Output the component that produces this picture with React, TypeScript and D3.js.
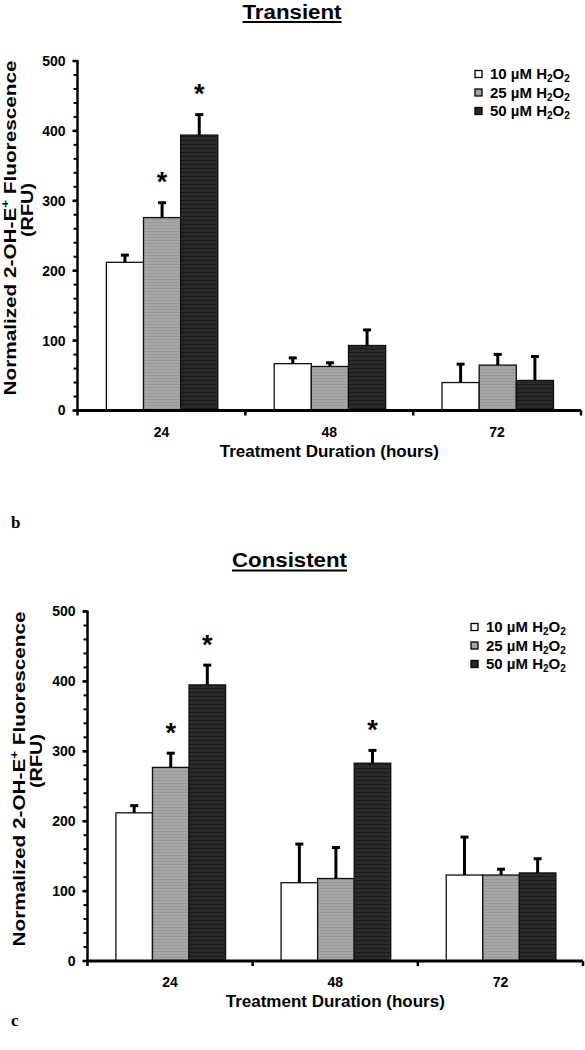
import React from 'react';
import * as d3 from 'd3';

// ---------- data ----------
const categories = ['24', '48', '72'];
const seriesKeys = ['10', '25', '50'];
const yTicks = [0, 100, 200, 300, 400, 500];
const yMinorTicks = d3.range(0, 501, 20);

// Transient
const transient10 = [212, 67, 40];
const transient25 = [276, 63, 65];
const transient50 = [394, 93, 43];
const transientErr10 = [11, 9, 27];
const transientErr25 = [22, 6, 16];
const transientErr50 = [30, 23, 35];
const transientSig10 = [false, false, false];
const transientSig25 = [true, false, false];
const transientSig50 = [true, false, false];

// Consistent
const consistent10 = [212, 112, 123];
const consistent25 = [277, 118, 123];
const consistent50 = [395, 283, 126];
const consistentErr10 = [11, 56, 55];
const consistentErr25 = [21, 45, 9];
const consistentErr50 = [29, 19, 21];
const consistentSig10 = [false, false, false];
const consistentSig25 = [true, false, false];
const consistentSig50 = [true, true, false];

const FILLS = ['#ffffff', 'url(#patGray)', 'url(#patBlack)'];
const LEGEND_FILLS = ['#ffffff', '#a3a3a3', '#262626'];
const FONT = '"Liberation Sans", Arial, sans-serif';

type ChartProps = {
  title: string;
  titleX: number;
  titleY: number;
  titleLen: number;
  x0: number;
  x1: number;
  yTop: number;
  yBottom: number;
  means: number[][];
  errs: number[][];
  sigs: boolean[][];
  legendX: number;
  legendY: number;
  labelX: number;
  labelCenterY: number;
  rfuCenterY: number;
};

function Chart(p: ChartProps) {
  const y = d3.scaleLinear().domain([0, 500]).range([p.yBottom, p.yTop]);
  const xBand = d3.scaleBand<string>().domain(categories).range([p.x0, p.x1]).padding(0);
  const bw = xBand.bandwidth();
  const inner = d3
    .scaleBand<string>()
    .domain(seriesKeys)
    .range([bw * 0.172, bw * 0.836])
    .padding(0);
  const barW = inner.bandwidth();
  const boundaries = [...categories.map((c) => xBand(c) as number), p.x1];

  return (
    <g>
      <text
        x={p.titleX}
        y={p.titleY}
        textAnchor="middle"
        fontFamily={FONT}
        fontWeight="bold"
        fontSize={20}
        textLength={p.titleLen}
        lengthAdjust="spacingAndGlyphs"
      >
        {p.title}
      </text>
      <line
        x1={p.titleX - p.titleLen / 2}
        x2={p.titleX + p.titleLen / 2}
        y1={p.titleY + 3.5}
        y2={p.titleY + 3.5}
        stroke="#000"
        strokeWidth={2}
      />

      {/* bars */}
      {seriesKeys.map((s, si) =>
        categories.map((c, ci) => {
          const v = p.means[si][ci];
          const bx = (xBand(c) as number) + (inner(s) as number);
          return (
            <rect
              key={`b${s}${c}`}
              x={bx}
              y={y(v)}
              width={barW}
              height={y(0) - y(v)}
              fill={FILLS[si]}
              stroke="#111"
              strokeWidth={1.3}
            />
          );
        })
      )}

      {/* error bars + asterisks */}
      {seriesKeys.map((s, si) =>
        categories.map((c, ci) => {
          const v = p.means[si][ci];
          const e = p.errs[si][ci];
          const cx = (xBand(c) as number) + (inner(s) as number) + barW / 2;
          const yt = y(v + e);
          return (
            <g key={`e${s}${c}`}>
              <line x1={cx} x2={cx} y1={y(v)} y2={yt} stroke="#000" strokeWidth={3} />
              <line x1={cx - 4} x2={cx + 4} y1={yt + 0.5} y2={yt + 0.5} stroke="#000" strokeWidth={3} />
              {p.sigs[si][ci] && (
                <text
                  x={cx}
                  y={yt - 11}
                  textAnchor="middle"
                  fontFamily={FONT}
                  fontWeight="bold"
                  fontSize={27}
                >
                  *
                </text>
              )}
            </g>
          );
        })
      )}

      {/* y axis */}
      <line x1={p.x0} x2={p.x0} y1={p.yTop - 1} y2={p.yBottom} stroke="#000" strokeWidth={2.5} />
      {yMinorTicks.map((t) => (
        <line key={`m${t}`} x1={p.x0 - 4} x2={p.x0} y1={y(t)} y2={y(t)} stroke="#000" strokeWidth={2} />
      ))}
      {yTicks.map((t) => (
        <g key={`t${t}`}>
          <line x1={p.x0 - 5} x2={p.x0} y1={y(t)} y2={y(t)} stroke="#000" strokeWidth={2.5} />
          <text
            x={p.x0 - 12}
            y={y(t)}
            dy="0.35em"
            textAnchor="end"
            fontFamily={FONT}
            fontWeight="bold"
            fontSize={14}
          >
            {t}
          </text>
        </g>
      ))}

      {/* x axis */}
      <line x1={p.x0 - 1} x2={p.x1} y1={p.yBottom} y2={p.yBottom} stroke="#000" strokeWidth={2.8} />
      {boundaries.map((bx, i) => (
        <line key={`xt${i}`} x1={bx} x2={bx} y1={p.yBottom} y2={p.yBottom + 5} stroke="#000" strokeWidth={2.5} />
      ))}
      {categories.map((c) => (
        <text
          key={`xl${c}`}
          x={(xBand(c) as number) + bw / 2}
          y={p.yBottom + 26}
          textAnchor="middle"
          fontFamily={FONT}
          fontWeight="bold"
          fontSize={14}
        >
          {c}
        </text>
      ))}
      <text
        x={(p.x0 + p.x1) / 2}
        y={p.yBottom + 46}
        textAnchor="middle"
        fontFamily={FONT}
        fontWeight="bold"
        fontSize={17}
      >
        Treatment Duration (hours)
      </text>

      {/* y label */}
      <text
        transform={`translate(${p.labelX},${p.labelCenterY}) rotate(-90)`}
        textAnchor="middle"
        fontFamily={FONT}
        fontWeight="bold"
        fontSize={17}
        textLength={335}
        lengthAdjust="spacingAndGlyphs"
      >
        Normalized 2-OH-E
        <tspan fontSize={11} dy={-7}>+</tspan>
        <tspan dy={7}> Fluorescence</tspan>
      </text>
      <text
        transform={`translate(${p.labelX + 17},${p.rfuCenterY}) rotate(-90)`}
        textAnchor="middle"
        fontFamily={FONT}
        fontWeight="bold"
        fontSize={17}
        textLength={54}
        lengthAdjust="spacingAndGlyphs"
      >
        (RFU)
      </text>

      {/* legend */}
      {seriesKeys.map((s, si) => {
        const ly = p.legendY + si * 18.5;
        return (
          <g key={`lg${s}`}>
            <rect x={p.legendX} y={ly - 3.5} width={7} height={7} fill={LEGEND_FILLS[si]} stroke="#000" strokeWidth={1.3} />
            <text x={p.legendX + 15} y={ly + 5} fontFamily={FONT} fontWeight="bold" fontSize={15}>
              {s} µM H
              <tspan fontSize={10} dy={3}>2</tspan>
              <tspan dy={-3}>O</tspan>
              <tspan fontSize={10} dy={3}>2</tspan>
            </text>
          </g>
        );
      })}
    </g>
  );
}

export default function App() {
  return (
    <svg
      width={585}
      height={1050}
      style={{ position: 'absolute', left: 0, top: 0, background: '#fff' }}
    >
      <defs>
        <pattern id="patGray" width={6} height={3} patternUnits="userSpaceOnUse">
          <rect width={6} height={3} fill="#a6a6a6" />
          <rect width={6} height={1} fill="#999999" />
        </pattern>
        <pattern id="patBlack" width={6} height={4} patternUnits="userSpaceOnUse">
          <rect width={6} height={4} fill="#2a2a2a" />
          <rect width={6} height={1} fill="#1a1a1a" />
        </pattern>
      </defs>
      <rect width={585} height={1050} fill="#fff" />

      <Chart
        title="Transient"
        titleX={292}
        titleY={18.5}
        titleLen={99}
        x0={77.5}
        x1={581}
        yTop={61}
        yBottom={410.5}
        means={[transient10, transient25, transient50]}
        errs={[transientErr10, transientErr25, transientErr50]}
        sigs={[transientSig10, transientSig25, transientSig50]}
        legendX={475}
        legendY={74}
        labelX={16}
        labelCenterY={228}
        rfuCenterY={210}
      />

      <text x={11} y={528} fontFamily='"Liberation Serif", "Times New Roman", serif' fontWeight="bold" fontSize={17}>
        b
      </text>

      <Chart
        title="Consistent"
        titleX={289.5}
        titleY={567}
        titleLen={115}
        x0={87.5}
        x1={583}
        yTop={611.5}
        yBottom={961}
        means={[consistent10, consistent25, consistent50]}
        errs={[consistentErr10, consistentErr25, consistentErr50]}
        sigs={[consistentSig10, consistentSig25, consistentSig50]}
        legendX={471}
        legendY={627}
        labelX={25}
        labelCenterY={779}
        rfuCenterY={761}
      />

      <text x={11} y={1026} fontFamily='"Liberation Serif", "Times New Roman", serif' fontWeight="bold" fontSize={17}>
        c
      </text>
    </svg>
  );
}
